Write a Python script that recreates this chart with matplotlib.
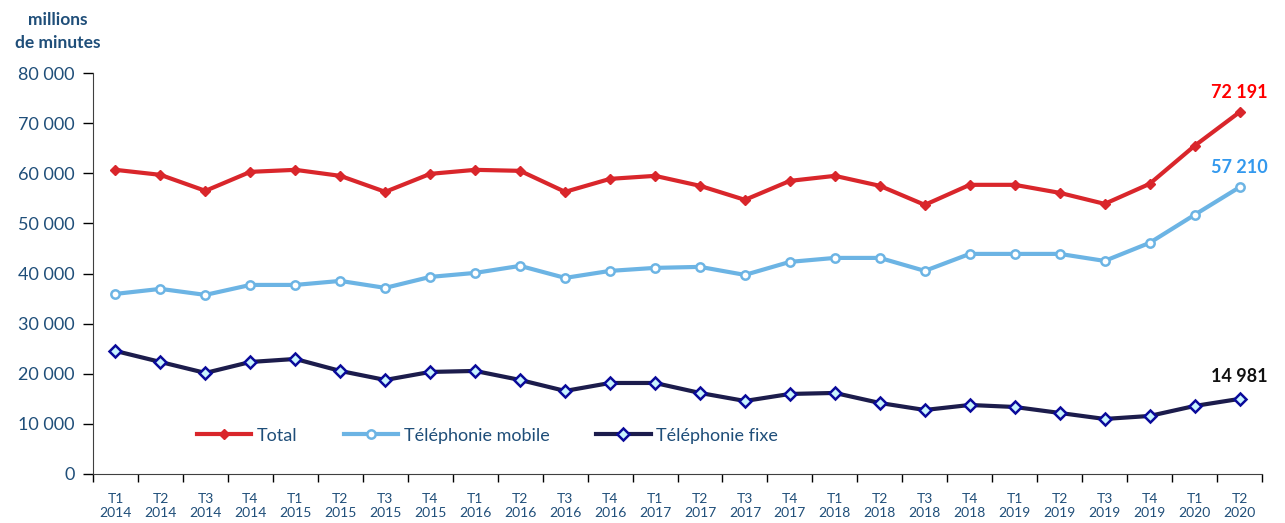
import matplotlib.pyplot as plt
from matplotlib.ticker import FuncFormatter, MultipleLocator, FixedLocator

quarters = ["T1", "T2", "T3", "T4"] * 6 + ["T1", "T2"]
years = [str(y) for y in range(2014, 2020) for _ in range(4)] + ["2020", "2020"]
tick_labels = [f"{q}\n{y}" for q, y in zip(quarters, years)]

total = [60680, 59680, 56490, 60280, 60680, 59480, 56290, 59880, 60680, 60480,
         56290, 58880, 59480, 57490, 54690, 58480, 59480, 57490, 53690, 57690,
         57690, 56090, 53890, 57880, 65470, 72191]
mobile = [35930, 36930, 35730, 37720, 37720, 38520, 37130, 39320, 40120, 41520,
          39120, 40520, 41120, 41320, 39720, 42320, 43110, 43110, 40520, 43910,
          43910, 43910, 42510, 46110, 51700, 57210]
fixe = [24550, 22350, 20160, 22350, 22950, 20560, 18760, 20360, 20560, 18760,
        16570, 18160, 18160, 16170, 14570, 15970, 16170, 14170, 12770, 13770,
        13370, 12180, 10980, 11580, 13570, 14981]

TXT = "#1F4E79"
plt.rcParams["font.family"] = ["Lato", "DejaVu Sans"]

fig = plt.figure(figsize=(12.85, 5.23), dpi=100)
ax = fig.add_axes([93 / 1285, 1 - 474 / 523, (1262 - 93) / 1285, (474 - 73) / 523])

x = list(range(len(total)))
ax.plot(x, total, color="#D9262B", lw=3, marker="D", ms=5,
        mfc="#D9262B", mec="#D9262B", label="Total", zorder=3)
ax.plot(x, mobile, color="#6CB4E4", lw=3, marker="o", ms=6,
        mfc="white", mec="#6CB4E4", mew=1.8, label="Téléphonie mobile", zorder=3)
ax.plot(x, fixe, color="#1C1C4C", lw=3, marker="D", ms=6,
        mfc="#C8F4FF", mec="#0A0A9A", mew=1.8, label="Téléphonie fixe", zorder=3)

ax.set_xlim(-0.5, len(x) - 0.5)
ax.set_ylim(0, 80000)
ax.yaxis.set_major_locator(MultipleLocator(10000))
ax.yaxis.set_major_formatter(FuncFormatter(lambda v, p: f"{int(v):,}".replace(",", " ")))
ax.tick_params(axis="y", labelsize=13, labelcolor=TXT, length=7, width=1, pad=6)

ax.set_xticks(x)
ax.set_xticklabels(tick_labels)
ax.xaxis.set_minor_locator(FixedLocator([i - 0.5 for i in range(len(x) + 1)]))
ax.tick_params(axis="x", which="major", length=0, labelsize=10, labelcolor=TXT, pad=14)
ax.tick_params(axis="x", which="minor", length=6, width=1)

for s in ["top", "right"]:
    ax.spines[s].set_visible(False)
for s in ["left", "bottom"]:
    ax.spines[s].set_color("#404040")

fig.text(58 / 1285, 1 - 12 / 523, "millions\nde minutes", ha="center", va="top",
         fontsize=12.5, fontweight="bold", color=TXT, linespacing=1.55)

last = len(x) - 1
ax.annotate("72 191", (last, total[-1]), xytext=(0, 10), textcoords="offset points",
            ha="center", fontsize=13, fontweight="bold", color="#FF0000")
ax.annotate("57 210", (last, mobile[-1]), xytext=(0, 10), textcoords="offset points",
            ha="center", fontsize=13, fontweight="bold", color="#3399EE")
ax.annotate("14 981", (last, fixe[-1]), xytext=(0, 12), textcoords="offset points",
            ha="center", fontsize=13, fontweight="bold", color="#111111")

leg = ax.legend(loc="lower left", bbox_to_anchor=(0.075, 0.035), ncol=3, frameon=False,
                fontsize=13, handlelength=3, columnspacing=2.6, handletextpad=0.3)
for t in leg.get_texts():
    t.set_color(TXT)

fig.savefig("out.png", dpi=100)
